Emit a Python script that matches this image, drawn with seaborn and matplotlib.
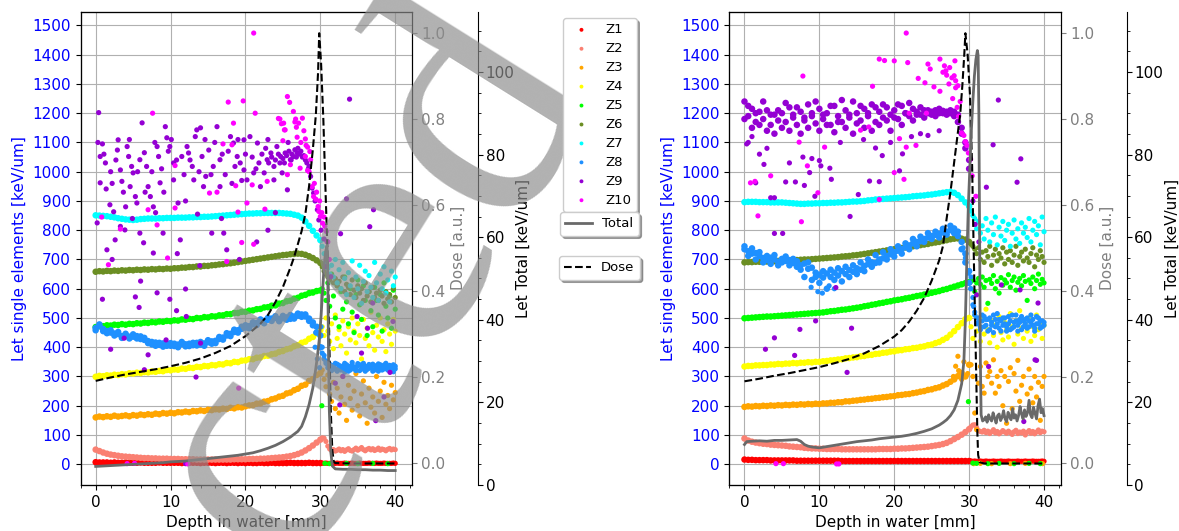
import numpy as np
import matplotlib
matplotlib.use("Agg")
import matplotlib.pyplot as plt
from matplotlib.ticker import MultipleLocator, AutoMinorLocator
import seaborn as sns

plt.rcParams['font.family'] = ['DejaVu Sans']
plt.rcParams['font.size'] = 11

# ---------------- common sampling depths ----------------
BAND_DEPTH = np.arange(0, 30.001, 0.5)        # 61 depths
TAIL_DEPTH = np.arange(30.25, 40.001, 0.25)   # 40 depths

Z_LABELS = ['Z1', 'Z2', 'Z3', 'Z4', 'Z5', 'Z6', 'Z7', 'Z8', 'Z9', 'Z10']
Z_COLORS = ['red', 'salmon', 'orange', 'yellow', 'lime', 'olivedrab',
            'cyan', 'dodgerblue', 'darkviolet', 'magenta']
WATERMARK = 'Retracted'

# ======================= LEFT PANEL =======================
L_Z1_BAND = [7,6,6,6,5,6,5,5,6,5, 5,5,6,5,5,5,5,6,5,5, 5,5,5,4,5,5,5,5,4,5,
             5,5,4,5,5,4,5,5,4,5, 4,5,4,4,5,4,4,5,4,4, 4,4,5,4,4,4,4,5,4,4, 4]
L_Z1_TAIL = [4,3,4,3,3,4,3,3,4,3, 3,3,4,3,3,3,4,3,3,3, 4,3,3,3,3,4,3,3,3,4,
             3,3,3,4,3,3,3,3,4,3]
L_Z2_BAND = [50,45,40,36,33,31,29,27,26,25, 24,23,22,21,21,20,20,19,19,19,
             18,18,18,17,17,17,17,16,16,16, 16,16,16,16,16,16,16,17,17,17,
             17,18,18,18,19,19,20,21,22,23, 24,26,28,31,35,40,47,55,64,74, 84]
L_Z2_TAIL = [90,89,78,62,52,47,50,45,48,52, 46,50,44,49,53,47,45,50,55,48,
             52,57,50,46,51,54,49,53,47,50, 55,48,52,50,46,51,54,49,52,50]
L_Z3_BAND = [160,163,161,164,162,166,163,165,167,164, 168,166,170,168,171,169,173,171,175,173,
             176,174,178,177,180,178,182,181,184,182, 186,185,188,187,190,189,193,191,195,194,
             198,201,202,207,208,214,216,222,225,231, 234,242,245,253,258,268,272,285,291,305, 312]
L_Z3_TAIL = [322,290,265,305,240,215,280,190,260,175, 230,300,205,150,270,225,185,250,310,200,
             165,240,285,210,140,260,195,230,175,300, 215,250,160,280,205,235,190,270,220,245]
L_Z4_BAND = [299,302,301,304,303,306,305,308,307,311, 310,313,312,315,314,317,316,319,318,322,
             321,324,323,327,326,330,329,333,332,336, 335,339,338,342,341,346,345,350,349,354,
             355,359,359,364,365,370,371,376,378,384, 387,393,396,403,407,415,419,429,435,447, 458]
L_Z4_TAIL = [470,440,500,455,420,480,395,510,430,460, 405,490,445,380,470,425,500,455,415,480,
             440,360,495,430,465,405,520,450,390,475, 435,500,420,460,385,480,445,410,495,455]
L_Z5_BAND = [469,472,472,475,474,477,476,479,477,480, 479,482,481,484,483,486,485,488,487,490,
             489,492,491,495,494,497,496,500,499,503, 502,506,505,509,509,513,513,517,517,521,
             521,525,526,530,531,536,537,542,543,549, 551,557,559,566,569,576,579,585,587,592, 594]
L_Z5_TAIL = [600,585,560,620,540,650,575,500,610,470, 590,530,640,555,480,600,520,450,580,630,
             545,495,610,560,440,590,525,470,605,560, 510,580,455,620,540,500,575,465,595,530]
L_Z5_EXTRA = [(30.2, 200), (30.6, 3), (31.2, 2), (33.5, 3), (35.0, 2), (37.0, 3), (39.0, 2)]
L_Z6_BAND = [658,660,659,661,660,662,661,663,662,664, 663,665,664,666,665,667,666,668,667,669,
             668,670,670,672,672,674,674,676,676,678, 678,680,681,683,684,686,687,689,691,693,
             695,697,699,701,703,705,707,709,711,713, 715,716,718,719,720,719,716,711,705,697, 688]
L_Z6_TAIL = [675,660,650,640,630,645,620,635,610,625, 600,640,590,615,605,580,630,595,570,610,
             585,600,560,620,575,590,555,605,570,585, 560,595,575,550,590,565,580,555,600,570]
L_Z7_BAND = [851,850,849,848,846,844,841,839,837,836, 835,836,838,839,840,840,840,841,841,842,
             842,842,843,843,843,844,844,845,845,846, 846,847,848,849,850,851,852,853,854,855,
             856,857,857,858,858,859,859,859,859,859, 858,857,856,853,850,843,830,815,798,782, 766]
L_Z7_TAIL = [745,720,690,670,650,680,640,700,620,665, 600,690,635,580,655,610,695,570,640,600,
             680,550,625,660,590,645,605,570,690,620, 560,650,600,675,585,630,555,660,610,640]
L_Z8_BAND = [466,472,462,455,450,447,445,438,442,436, 444,430,437,425,421,410,416,408,413,405,
             414,404,409,411,403,412,407,415,409,413, 417,412,422,428,433,440,446,452,458,463,
             467,472,478,483,488,490,494,498,500,496, 499,502,497,505,508,512,505,498,485,470, 440]
L_Z8_BAND_B = [458,478,455,448,458,440,452,432,446,430, 436,438,428,432,414,418,405,415,402,411,
               405,412,400,418,410,404,415,406,418,405, 424,420,414,435,426,448,438,460,450,470,
               475,465,485,476,495,482,500,490,506,489, 507,494,510,498,515,504,512,490,475,450, 400]
L_Z8_TAIL = [400,372,352,340,333,328,338,325,342,330, 322,336,345,328,318,334,340,326,332,344,
             320,338,329,335,324,341,330,318,337,327, 343,331,322,339,328,335,320,333,340,326]
L_Z8_TAIL_B = [380,360,345,330,342,320,330,345,318,338, 332,326,315,340,335,322,348,330,320,336,
               340,325,345,318,333,328,336,342,322,334, 318,340,330,326,345,322,338,329,316,335]
L_Z8_EXTRA = [(29.3, 400), (29.6, 360), (29.9, 330), (30.1, 470), (29.4, 450)]
L_Z9_PTS = [
    (0.4,1202),(0.3,1100),(0.6,1052),(0.6,962),(1.4,941),(1.3,1030),(0.2,825),(1.9,887),(2.4,863),
    (1.5,733),(2.6,767),(3.0,1109),(2.9,1074),(3.3,1006),(3.5,967),(3.3,813),(3.9,801),(4.2,1086),
    (4.4,1052),(4.8,1018),(5.0,996),(4.6,949),(5.3,915),(5.5,893),(5.9,790),(6.4,757),(6.2,1167),
    (5.9,1041),(6.8,1018),(7.0,949),(7.3,915),(7.7,880),(7.7,722),(8.2,1086),(8.4,1052),(8.6,962),
    (9.0,790),(9.3,1154),(9.5,1116),(9.9,1086),(10.4,1030),(10.4,972),(11.0,893),(11.3,767),
    (11.5,1052),(12.2,1086),(12.4,1064),(12.9,1018),(13.1,972),(13.3,1120),(13.5,1143),(14.0,1150),
    (14.2,1052),(14.4,949),(14.7,984),(15.1,1074),(15.7,1018),(16.2,1154),(16.6,1041),(16.6,949),
    (17.1,790),(17.5,733),(18.0,1120),(18.4,1098),(18.6,1018),(18.9,1052),(19.3,1030),(19.8,1006),
    (19.8,1109),(20.2,972),(20.6,1120),(21.1,996),(21.6,1098),(21.8,1030),(22.0,949),(22.5,996),
    (22.9,1041),(23.4,1064),(23.8,1018),(23.8,972),(24.2,1086),(24.7,1052),(24.9,996),(25.3,1064),
    (25.6,938),(26.0,1041),(26.4,1052),(26.9,1064),
    (0.9,1095),(1.1,1060),(2.0,1000),(2.2,960),(2.7,1040),(3.7,930),(4.0,880),(4.5,1110),(5.6,1000),
    (6.5,1065),(6.6,930),(7.5,1000),(7.9,1100),(8.8,1010),(9.1,930),(9.7,1070),(10.1,1110),
    (10.8,1040),(11.8,990),(12.0,900),(12.6,1040),(13.8,1000),(14.6,1110),(15.4,990),(15.9,1100),
    (16.9,1060),(17.3,990),(17.7,1070),(18.2,960),(19.0,1110),(19.5,970),(20.0,1060),(20.9,1050),
    (21.4,1010),(22.2,1060),(22.7,1080),(23.1,1030),(23.5,1050),(24.0,1040),(24.4,1060),(24.6,1030),
    (25.0,1045),(25.2,1030),(25.5,1055),(25.8,1070),(26.1,1040),(26.2,1060),(26.6,1075),(26.8,1050),
    (27.0,1080),(27.2,1060),(27.4,1070),(27.6,1050),(27.8,1055),(28.0,1040),(28.2,1030),(28.4,1010),
    (28.5,1018),(28.7,984),(28.9,944),(29.1,927),(29.3,900),(29.6,870),(29.8,835),(30.1,800),
    (30.5,770),(30.9,761),(23.0,1110),(25.7,1100),
    (0.9,564),(5.3,572),(5.8,536),(6.0,626),(8.2,586),(9.9,564),(10.8,525),(12.0,599),(12.1,505),
    (13.9,679),(2.0,393),(3.8,431),(7.0,374),(9.4,425),(6.5,323),(14.0,414),(13.4,298),(12.0,2),
    (2.2,700),(4.9,840),(8.0,860),(10.9,720),(13.6,855),(15.5,790),(16.8,840),(19.2,700),(21.5,760),
    (23.0,800),(24.0,860),
    (33.9,1248),(33.5,907),(37.1,870),(36.6,812),(32.7,788),(31.4,641),(37.0,551),(39.7,488),
    (36.3,465),(34.9,505),(32.0,277),(33.0,300),(32.6,203),(37.4,149),(39.3,314),(30.7,676),
    (35.5,380),(38.5,230)]
L_Z10_PTS = [
    (21.1,1474),(17.7,1238),(19.7,1242),(21.3,1200),(7.6,1200),(18.4,1166),(24.4,1182),(25.1,1166),
    (25.6,1257),(25.9,1237),(26.4,1206),(26.6,1170),(25.3,1143),(18.2,1092),(15.2,927),(16.2,930),
    (10.6,876),(7.0,870),(8.2,818),(3.3,804),(0.8,845),(22.6,872),(19.0,862),(19.5,758),(21.1,752),
    (22.9,967),(20.9,955),(20.2,893),(9.6,705),(17.5,693),(1.7,682),(10.6,1021),(17.0,1095),
    (26.0,1024),(25.6,990),(24.6,1180),(24.8,1164),(25.2,1143),(26.7,1180),(27.1,1166),(27.6,1183),
    (26.8,1152),(25.0,1106),(26.9,1118),(27.4,1100),(28.0,1112),(28.3,1084),(28.6,1069),(28.0,1052),
    (28.7,1041),(27.3,1012),(28.3,1004),(28.9,949),(29.1,915),(29.4,906),(29.7,881),(29.8,864),
    (30.0,847),(30.3,824),(30.6,813),(30.8,796),(18.7,952),(4.2,2),(5.2,3),(12.3,1),(19.1,260),
    (27.8,1140),(28.1,1090),(28.5,1000),(29.2,960),(29.5,930),(29.9,900),(30.2,860),(30.5,845),
    (31.0,760),(31.2,700)]
L_TOTAL_D = [0,1,2,3,4,5,6,7,8,9,10,11,12,13,14,15,16,17,18,19,20,21,22,23,24,25,26,26.5,27,
             27.5,28,28.5,29,29.3,29.6,29.9,30.1,30.3,30.5,30.7,30.9,31.0,31.1,31.2,31.4,31.6,
             32,33,34,35,36,37,38,39,40]
L_TOTAL_V = [4.5,4.6,4.7,4.8,4.9,5.0,5.1,5.2,5.3,5.4,5.6,5.7,5.8,6.0,6.2,6.4,6.6,6.8,7.0,7.2,
             7.5,7.8,8.3,8.9,9.6,10.5,11.6,12.3,13.0,14.2,16.5,19.5,23.5,27,31,36,41,47,53,56.5,
             58,50,30,18,8,4.6,3.9,3.8,3.8,3.7,3.7,3.6,3.6,3.5,3.5]
L_DOSE_D = [0,2,4,6,8,10,12,14,16,18,20,21,22,23,24,25,26,26.5,27,27.5,28,28.5,29,29.4,29.7,
            29.85,30.1,30.4,30.7,31.0,31.2,31.4,31.6,31.8,32,34,36,38,40]
L_DOSE_V = [0.192,0.2,0.207,0.213,0.219,0.226,0.234,0.244,0.257,0.273,0.296,0.31,0.325,0.345,
            0.375,0.41,0.455,0.48,0.51,0.54,0.58,0.645,0.73,0.81,0.91,1.0,0.93,0.8,0.63,0.47,
            0.28,0.12,0.03,0.004,0.001,0,0,0,0]

# ======================= RIGHT PANEL =======================
R_Z1_BAND = [16,15,15,14,14,14,14,13,13,13, 13,13,13,13,12,12,12,12,12,12, 12,12,12,12,12,12,11,11,11,11,
             11,11,11,11,11,11,11,11,11,11, 11,11,11,11,11,11,11,11,11,11, 11,11,11,11,11,11,11,11,11,11, 11]
R_Z1_TAIL = [11,10,11,10,10,11,10,10,11,10, 10,10,11,10,10,10,11,10,10,10, 11,10,10,10,10,11,10,10,10,11,
             10,10,10,11,10,10,10,10,11,10]
R_Z2_BAND = [88,81,77,74,72,70,69,67,66,65, 64,63,61,60,59,58,56,55,54,54, 53,53,52,52,52,52,51,51,51,51,
             51,51,51,51,51,51,52,52,52,52, 53,53,54,54,55,56,57,58,59,60, 62,64,66,69,73,79,86,93,101,110, 120]
R_Z2_TAIL = [128,134,135,125,115,112,110,116,108,113, 105,111,118,107,112,104,109,115,110,106,
             113,108,102,111,116,105,110,107,113,100, 109,115,106,112,104,110,117,108,113,111]
R_Z3_BAND = [196,198,197,199,198,200,199,201,200,202, 201,203,202,204,203,205,204,206,205,207,
             206,208,208,210,210,212,212,215,215,217, 218,220,221,223,224,226,227,229,230,232,
             233,236,237,239,240,243,245,248,250,254, 256,260,263,269,274,282,290,301,312,300, 340]
R_Z3_TAIL = [340,300,175,118,277,334,266,243,346,300, 317,277,357,243,300,266,320,200,300,140,
             283,330,190,310,250,355,215,270,300,170, 240,325,260,210,300,230,280,150,266,300]
R_Z3_EXTRA = [(27.9,300),(28.2,335),(28.5,369),(28.6,320),(29.0,290),(29.3,350),(29.8,310),
              (30.6,2),(31.5,3),(33.0,2),(35.5,2),(37.5,3),(39.8,2)]
R_Z4_BAND = [334,336,336,338,338,339,339,341,341,343, 342,344,344,346,345,347,347,349,348,350,
             350,352,353,355,356,358,359,362,363,365, 366,369,370,373,374,377,378,381,382,385,
             386,389,390,393,394,397,398,401,403,407, 409,414,418,425,432,443,455,469,482,496, 500]
R_Z4_TAIL = [470,430,510,455,480,420,500,445,530,460, 415,490,440,475,400,505,450,425,485,460,
             435,515,470,410,490,445,525,465,430,480, 455,500,420,470,440,510,460,485,430,475]
R_Z5_BAND = [499,500,501,502,503,504,505,505,506,507, 508,509,510,511,512,513,514,515,516,517,
             518,519,521,523,524,526,528,529,531,533, 535,537,540,542,545,547,550,552,555,557,
             560,562,564,567,569,572,575,577,580,583, 586,589,592,596,599,603,607,611,615,619, 623]
R_Z5_TAIL = [625,630,590,620,635,615,640,605,628,550, 632,618,645,600,625,585,638,612,630,620,
             648,605,628,640,595,622,635,610,645,625, 560,630,618,640,600,628,650,615,632,620]
R_Z5_EXTRA = [(29.9,214),(30.5,4),(31.0,3),(32.5,2),(34.0,3),(36.0,2),(38.0,3),(39.5,2)]
R_Z6_BAND = [690,691,691,692,692,693,693,694,694,695, 695,696,696,697,698,699,700,700,701,702,
             703,704,705,706,707,708,710,711,712,714, 715,717,719,721,723,725,727,729,731,733,
             735,737,739,741,743,745,747,749,751,753, 756,758,760,763,766,769,771,772,771,768, 760]
R_Z6_TAIL = [752,745,735,720,740,700,725,690,730,710, 745,680,715,735,695,720,705,740,685,725,
             700,730,690,715,745,680,710,725,695,735, 705,690,720,740,675,715,700,730,710,690]
R_Z7_BAND = [896,897,897,897,896,896,896,895,895,895, 895,894,893,892,891,890,890,891,891,892,
             892,893,893,894,894,895,895,896,897,898, 898,899,900,902,903,905,906,907,908,909,
             910,911,912,913,914,916,917,918,919,921, 922,924,926,928,930,931,928,920,908,895, 882]
R_Z7_TAIL = [865,850,840,805,830,790,815,770,840,800, 760,825,785,845,750,810,780,830,765,800,
             820,745,790,835,770,805,755,825,790,810, 775,840,760,800,830,785,815,750,845,795]
R_Z8_BAND = [735,728,720,722,712,705,698,706,700,692, 702,695,698,688,694,680,686,668,672,655,
             648,638,652,640,655,645,660,650,664,658, 670,665,678,684,690,688,700,704,712,718,
             725,730,736,742,748,755,760,762,770,775, 780,784,788,792,795,800,806,795,760,720, 660]
R_Z8_BAND_B = [745,712,738,700,725,690,712,685,715,680, 690,710,680,702,675,665,640,690,630,640,
               620,660,600,665,630,670,625,675,640,680, 650,690,660,700,675,715,690,725,700,735,
               710,745,720,755,735,770,745,778,760,790, 770,795,775,805,785,815,790,780,735,690, 620]
R_Z8_TAIL = [600,545,520,500,485,470,490,505,475,495, 460,485,510,470,480,495,455,500,480,470,
             505,490,465,485,510,475,495,460,490,480, 500,470,485,495,465,505,480,490,470,485]
R_Z8_TAIL_B = [640,570,510,480,500,460,510,470,495,455, 500,475,450,495,515,465,490,475,500,455,
               480,460,510,470,490,455,485,505,470,495, 465,490,510,475,455,480,500,465,490,475]
R_Z8_EXTRA = [(9.8,590),(10.4,585),(12.0,600),(11.3,610),(8.9,605),(29.5,705),(29.9,653),
              (30.6,539),(30.2,600),(29.2,740)]
R_Z9_BAND = [1240,1190,1215,1170,1205,1180,1210,1160,1195,1175, 1200,1170,1220,1185,1160,1205,1175,1230,1190,1165,
             1215,1180,1200,1160,1225,1190,1170,1210,1185,1240, 1200,1175,1215,1190,1230,1170,1205,1185,1220,1195,
             1210,1180,1225,1200,1190,1215,1205,1195,1210,1200, 1205,1210,1200,1208,1205,1200,1190,1170,1130,1080, 1010]
R_Z9_BAND_B = [1180,1225,1150,1200,1160,1240,1140,1195,1130,1210, 1150,1235,1140,1195,1220,1130,1185,1150,1200,1240,
               1140,1195,1160,1225,1135,1170,1245,1150,1195,1130, 1165,1225,1150,1200,1140,1220,1160,1230,1175,1140,
               1185,1230,1160,1200,1235,1175,1195,1220,1185,1210, 1195,1190,1215,1200,1195,1210,1205,1195,1150,1100, 1040]
R_Z9_PTS = [
    (2.8,393),(4.0,432),(6.7,372),(7.4,461),(9.5,490),(14.3,465),(13.7,314),(12.2,604),(14.1,847),
    (4.0,789),(5.1,789),(3.5,911),(4.0,911),(6.8,965),(5.5,965),(8.7,997),(8.0,953),(9.4,916),
    (10.0,1038),(10.2,1020),(11.4,1012),(11.6,974),(16.7,968),(18.0,966),(18.4,1055),(17.5,1081),
    (21.1,1061),(15.2,922),(20.7,1003),(24.5,1124),(1.5,962),(2.0,1060),(0.5,1100),(1.0,1120),
    (3.0,1080),(6.0,1030),(7.8,1050),(12.8,1100),(15.9,1110),(19.5,1100),(22.3,1120),(23.5,1130),
    (0.3,1095),(2.6,1025),(9.0,1045),(26.0,1140),
    (33.2,1092),(36.9,1044),(36.4,964),(32.3,947),(33.9,1245),(31.0,579),(34.3,613),(36.8,596),
    (39.2,551),(32.6,334),(38.8,357),(37.3,146),(39.0,355),(30.5,900),(31.3,760),(30.8,820)]
R_Z10_PTS = [
    (7.8,1327),(17.1,1292),(18.0,1385),(18.7,1380),(20.0,1379),(21.6,1474),(21.8,1373),(23.2,1319),
    (24.5,1368),(24.8,1351),(26.1,1385),(26.7,1362),(26.9,1345),(27.4,1356),(28.0,1328),(28.2,1311),
    (28.1,1379),(28.5,1294),(28.8,1240),(26.1,1275),(24.1,1304),(25.3,1290),(21.6,1084),(20.7,1113),
    (21.3,974),(20.0,997),(22.9,1090),(0.8,962),(1.4,967),(1.8,849),(3.5,986),(8.4,1020),(7.3,1101),
    (9.8,928),(10.7,1084),(15.5,1142),(16.6,1153),(7.6,829),(18.0,905),(27.7,1321),(28.2,1287),
    (29.3,1124),(29.7,1090),(30.2,1043),(30.4,986),(30.9,916),(28.6,1189),(29.0,1132),(29.5,1103),
    (29.9,1064),(27.0,1330),(27.3,1300),(26.5,1340),(27.8,1250),(28.4,1220),(4.2,2),(5.2,2),
    (12.3,1),(12.6,1),(24.3,1200),(22.0,1200)]
R_TOTAL_D = [0,0.3,1,2,3,4,5,6,7,7.5,8,8.5,9,10,11,12,13,14,15,16,17,18,19,20,21,22,23,24,25,26,
             26.5,27,27.5,28,28.5,29,29.3,29.5,29.7,29.9,30.1,30.3,30.5,30.7,30.9,31.1,31.2,31.3,
             31.4,31.5,31.6,31.8] + [round(32 + 0.2 * i, 1) for i in range(41)]
R_TOTAL_V = [9.8,10.5,10.6,10.7,10.6,10.8,10.8,10.9,11.0,10.6,9.8,9.4,9.2,9.0,9.3,9.6,9.9,10.2,
             10.5,10.7,10.9,11.2,11.4,11.6,11.8,12.1,12.5,13.0,13.6,14.5,15.1,15.8,16.8,18.2,20.5,
             24.5,30,40,55,68,77,86,93,99,103,105.2,104,90,60,30,17,15.5,
             15.8,16.5,15.2,17.0,16.0,15.5,17.5,16.2,15.0,16.8,17.2,15.6,16.4,18.0,16.0,15.3,17.6,
             16.5,15.8,18.5,16.2,17.0,15.5,16.8,19.0,17.2,16.0,18.2,16.6,17.5,20.5,17.0,16.3,18.8,
             17.4,16.0,19.2,20.8,17.5,18.5,16.8]
R_DOSE_D = [0,2,4,6,8,10,12,14,16,18,20,21,22,23,24,25,26,26.5,27,27.5,28,28.5,28.8,29.1,29.35,
            29.5,29.8,30.1,30.4,30.6,30.8,30.95,31.1,31.2,31.4,32,34,36,38,40]
R_DOSE_V = [0.191,0.197,0.204,0.21,0.217,0.224,0.233,0.243,0.256,0.273,0.295,0.31,0.33,0.355,
            0.385,0.425,0.472,0.505,0.57,0.63,0.7,0.77,0.81,0.88,0.95,1.0,0.95,0.86,0.69,0.5,
            0.33,0.2,0.07,0.02,0.003,0,0,0,0,0]


def band(vals):
    return (BAND_DEPTH, np.asarray(vals, float), 'band')


def tail(vals):
    return (TAIL_DEPTH, np.asarray(vals, float), 'pts')


def pts(lst):
    a = np.asarray(lst, float)
    return (a[:, 0], a[:, 1], 'pts')


LEFT_SERIES = [
    [band(L_Z1_BAND), tail(L_Z1_TAIL)],
    [band(L_Z2_BAND), tail(L_Z2_TAIL)],
    [band(L_Z3_BAND), tail(L_Z3_TAIL)],
    [band(L_Z4_BAND), tail(L_Z4_TAIL)],
    [band(L_Z5_BAND), tail(L_Z5_TAIL), pts(L_Z5_EXTRA)],
    [band(L_Z6_BAND), tail(L_Z6_TAIL)],
    [band(L_Z7_BAND), tail(L_Z7_TAIL)],
    [band(L_Z8_BAND), band(L_Z8_BAND_B), tail(L_Z8_TAIL), tail(L_Z8_TAIL_B), pts(L_Z8_EXTRA)],
    [pts(L_Z9_PTS)],
    [pts(L_Z10_PTS)],
]
RIGHT_SERIES = [
    [band(R_Z1_BAND), tail(R_Z1_TAIL)],
    [band(R_Z2_BAND), tail(R_Z2_TAIL)],
    [band(R_Z3_BAND), tail(R_Z3_TAIL), pts(R_Z3_EXTRA)],
    [band(R_Z4_BAND), tail(R_Z4_TAIL)],
    [band(R_Z5_BAND), tail(R_Z5_TAIL), pts(R_Z5_EXTRA)],
    [band(R_Z6_BAND), tail(R_Z6_TAIL)],
    [band(R_Z7_BAND), tail(R_Z7_TAIL)],
    [band(R_Z8_BAND), band(R_Z8_BAND_B), tail(R_Z8_TAIL), tail(R_Z8_TAIL_B), pts(R_Z8_EXTRA)],
    [band(R_Z9_BAND), band(R_Z9_BAND_B), pts(R_Z9_PTS)],
    [pts(R_Z10_PTS)],
]

W, H = 1179, 531
fig = plt.figure(figsize=(W / 100, H / 100), dpi=100)
SIZES = {'band': 22, 'pts': 14}


def draw_panel(x0_px, series, tot_d, tot_v, dose_d, dose_v):
    rect = [x0_px / W, 1 - 485 / H, 331 / W, 473.3 / H]
    ax = fig.add_axes(rect)
    handles = []
    for k, parts in enumerate(series):
        for d, v, kind in parts:
            sns.scatterplot(x=d, y=v, ax=ax, color=Z_COLORS[k], s=SIZES[kind], linewidth=0,
                            edgecolor='none', legend=False)
        handles.append(ax.collections[-1])
    ax.set_axisbelow(True)
    ax.grid(True, which='major', color='#b0b0b0', linewidth=0.8)
    ax.set_xlim(-2.0, 42.2)
    ax.set_ylim(-71, 1547)
    ax.xaxis.set_major_locator(MultipleLocator(10))
    ax.xaxis.set_minor_locator(AutoMinorLocator(5))
    ax.yaxis.set_major_locator(MultipleLocator(100))
    ax.tick_params(axis='y', labelcolor='blue')
    ax.set_ylabel('Let single elements [keV/um]', color='blue')
    ax.set_xlabel('Depth in water [mm]')

    ax2 = ax.twinx()
    sns.lineplot(x=dose_d, y=dose_v, ax=ax2, color='black', linestyle='--', linewidth=1.5,
                 estimator=None, sort=False, legend=False)
    dose_line = ax2.lines[-1]
    ax2.set_ylim(-0.05, 1.05)
    ax2.yaxis.set_major_locator(MultipleLocator(0.2))
    ax2.tick_params(axis='y', colors='gray')
    ax2.set_ylabel('Dose [a.u.]', color='gray')

    ax3 = ax.twinx()
    ax3.spines['right'].set_position(('axes', 1.2))
    sns.lineplot(x=tot_d, y=tot_v, ax=ax3, color='dimgray', linewidth=2,
                 estimator=None, sort=False, legend=False)
    tot_line = ax3.lines[-1]
    ax3.set_ylim(0, 114.6)
    ax3.yaxis.set_major_locator(MultipleLocator(20))
    ax3.yaxis.set_minor_locator(AutoMinorLocator(4))
    ax3.tick_params(axis='y', which='major', pad=2)
    ax3.set_ylabel('Let Total [keV/um]', labelpad=1)
    ax.set_xlim(-2.0, 42.2)
    return handles, tot_line, dose_line


h_left, tot_left, dose_left = draw_panel(80.7, LEFT_SERIES, L_TOTAL_D, L_TOTAL_V, L_DOSE_D, L_DOSE_V)
draw_panel(729.5, RIGHT_SERIES, R_TOTAL_D, R_TOTAL_V, R_DOSE_D, R_DOSE_V)

# diagonal watermark stamped over the figure (below the legends)
fig.text(600 / W, 1 - 82 / H, WATERMARK, rotation=58, rotation_mode='anchor',
         ha='right', va='baseline', fontsize=252, family=['Liberation Serif', 'DejaVu Serif'],
         color='#8c8c8c', alpha=0.68, zorder=3)

leg_kw = dict(loc='upper left', borderaxespad=0, fontsize=9.5, shadow=True, frameon=True,
              labelspacing=0.45)
for lg in [fig.legend(h_left, Z_LABELS, bbox_to_anchor=(563 / W, 1 - 18 / H), markerscale=0.75, **leg_kw),
           fig.legend([tot_left], ['Total'], bbox_to_anchor=(560 / W, 1 - 212 / H), **leg_kw),
           fig.legend([dose_left], ['Dose'], bbox_to_anchor=(559 / W, 1 - 256 / H), **leg_kw)]:
    lg.set_zorder(6)

fig.savefig('out.png', dpi=100)
